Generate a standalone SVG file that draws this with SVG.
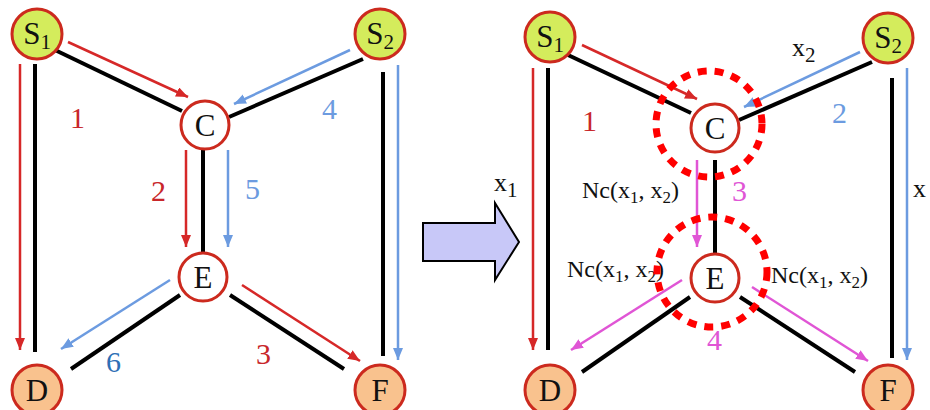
<svg xmlns="http://www.w3.org/2000/svg" width="930" height="410" viewBox="0 0 930 410">
<style>
.n{stroke:#cc2a1e;stroke-width:3}
.src{fill:#d4ec5c}
.mid{fill:#ffffff}
.dst{fill:#f9c28e}
.edge{stroke:#000;stroke-width:4;fill:none}
.r{stroke:#d62828;stroke-width:2.5;fill:none;marker-end:url(#ar)}
.b{stroke:#6c9be0;stroke-width:2.5;fill:none;marker-end:url(#ab)}
.m{stroke:#e055d5;stroke-width:2.5;fill:none;marker-end:url(#am)}
.dot{fill:none;stroke:#ff0000;stroke-width:7;stroke-dasharray:9 8}
</style>
<defs>
<marker id="ar" markerUnits="userSpaceOnUse" markerWidth="14" markerHeight="12" refX="12" refY="5" orient="auto"><path d="M0,0 L12,5 L0,10 Z" fill="#d62828"/></marker>
<marker id="ab" markerUnits="userSpaceOnUse" markerWidth="14" markerHeight="12" refX="12" refY="5" orient="auto"><path d="M0,0 L12,5 L0,10 Z" fill="#6c9be0"/></marker>
<marker id="am" markerUnits="userSpaceOnUse" markerWidth="14" markerHeight="12" refX="12" refY="5" orient="auto"><path d="M0,0 L12,5 L0,10 Z" fill="#e055d5"/></marker>
</defs>
<g id="connectors">
<line class="edge" x1="35" y1="64" x2="35" y2="352"/>
<line class="r" x1="20" y1="64" x2="20" y2="350"/>
<line class="edge" x1="55" y1="50" x2="182" y2="111"/>
<line class="r" x1="68" y1="42" x2="188" y2="97"/>
<line class="edge" x1="363" y1="59" x2="229" y2="117"/>
<line class="b" x1="350" y1="50" x2="234" y2="104"/>
<line class="edge" x1="383" y1="72" x2="383" y2="356"/>
<line class="b" x1="398" y1="65" x2="398" y2="360"/>
<line class="edge" x1="203" y1="150" x2="203" y2="252"/>
<line class="r" x1="186" y1="150" x2="186" y2="247"/>
<line class="b" x1="228" y1="150" x2="228" y2="247"/>
<line class="edge" x1="180" y1="295" x2="71" y2="369"/>
<line class="b" x1="170" y1="280" x2="61" y2="349"/>
<line class="edge" x1="230" y1="295" x2="344" y2="369"/>
<line class="r" x1="242" y1="285" x2="360" y2="361"/>
<line class="edge" x1="548" y1="68" x2="548" y2="350"/>
<line class="r" x1="533" y1="68" x2="533" y2="350"/>
<line class="edge" x1="568" y1="55" x2="691" y2="113"/>
<line class="r" x1="582" y1="45" x2="697" y2="99"/>
<line class="edge" x1="872" y1="62" x2="739" y2="120"/>
<line class="b" x1="860" y1="52" x2="744" y2="107"/>
<line class="edge" x1="892" y1="78" x2="892" y2="358"/>
<line class="b" x1="907" y1="68" x2="907" y2="360"/>
<line class="edge" x1="715" y1="160" x2="715" y2="253"/>
<line class="m" x1="697" y1="160" x2="697" y2="247"/>
<line class="edge" x1="690" y1="297" x2="582" y2="372"/>
<line class="m" x1="682" y1="280" x2="571" y2="350"/>
<line class="edge" x1="740" y1="297" x2="855" y2="372"/>
<line class="m" x1="752" y1="287" x2="868" y2="361"/>
</g>
<g font-family="Liberation Serif, serif" font-size="31" fill="#111" text-anchor="middle">
<g id="left-S1"><circle class="n src" cx="37" cy="34" r="25"/><text x="37" y="44">S<tspan font-size="21" dy="5">1</tspan></text></g>
<g id="left-C"><circle class="n mid" cx="205" cy="125" r="24"/><text x="205" y="136">C</text></g>
<g id="left-S2"><circle class="n src" cx="380" cy="34" r="25"/><text x="380" y="44">S<tspan font-size="21" dy="5">2</tspan></text></g>
<g id="left-E"><circle class="n mid" cx="203" cy="277" r="24"/><text x="203" y="288">E</text></g>
<g id="left-D"><circle class="n dst" cx="37" cy="390" r="25"/><text x="37" y="401">D</text></g>
<g id="left-F"><circle class="n dst" cx="380" cy="390" r="25"/><text x="380" y="401">F</text></g>
<g id="right-S1"><circle class="n src" cx="550" cy="37" r="25"/><text x="550" y="47">S<tspan font-size="21" dy="5">1</tspan></text></g>
<g id="right-C"><circle class="n mid" cx="715" cy="128" r="24"/><text x="715" y="139">C</text></g>
<g id="right-S2"><circle class="n src" cx="888" cy="38" r="25"/><text x="888" y="48">S<tspan font-size="21" dy="5">2</tspan></text></g>
<g id="right-E"><circle class="n mid" cx="715" cy="278" r="24"/><text x="715" y="289">E</text></g>
<g id="right-D"><circle class="n dst" cx="550" cy="390" r="25"/><text x="550" y="401">D</text></g>
<g id="right-F"><circle class="n dst" cx="888" cy="390" r="25"/><text x="888" y="401">F</text></g>
</g>
<g id="left-labels" font-family="Liberation Serif, serif" font-size="30">
<text x="70" y="128" fill="#c8262a">1</text>
<text x="322" y="119" fill="#6c9be0">4</text>
<text x="151" y="201" fill="#c8262a">2</text>
<text x="245" y="199" fill="#6c9be0">5</text>
<text x="106" y="372" fill="#2e6fb5">6</text>
<text x="256" y="364" fill="#c8262a">3</text>
</g>
<g id="big-arrow"><path d="M423,223 L495,223 L495,203 L519,242 L495,280 L495,261 L423,261 Z" fill="#c8c8f8" stroke="#000" stroke-width="2"/></g>
<g id="right-labels" font-family="Liberation Serif, serif" font-size="24" fill="#111">
<text x="494" y="191" font-size="26">x<tspan font-size="21" dy="6">1</tspan></text>
<text x="582" y="131" font-size="30" fill="#c8262a">1</text>
<text x="582" y="198">Nc(x<tspan font-size="17" dy="5">1</tspan><tspan dy="-5">, x</tspan><tspan font-size="17" dy="5">2</tspan><tspan dy="-5">)</tspan></text>
<text x="732" y="201" font-size="30" fill="#e055d5">3</text>
<text x="792" y="56" font-size="26">x<tspan font-size="21" dy="6">2</tspan></text>
<text x="832" y="123" font-size="30" fill="#6c9be0">2</text>
<text x="913" y="197" font-size="26">x</text>
<text x="567" y="277">Nc(x<tspan font-size="17" dy="5">1</tspan><tspan dy="-5">, x</tspan><tspan font-size="17" dy="5">2</tspan><tspan dy="-5">)</tspan></text>
<text x="771" y="283">Nc(x<tspan font-size="17" dy="5">1</tspan><tspan dy="-5">, x</tspan><tspan font-size="17" dy="5">2</tspan><tspan dy="-5">)</tspan></text>
<text x="707" y="350" font-size="30" fill="#e055d5">4</text>
</g>
<g id="highlights">
<circle class="dot" cx="709" cy="124" r="53"/>
<circle class="dot" cx="712" cy="272" r="55"/>
</g>
</svg>
